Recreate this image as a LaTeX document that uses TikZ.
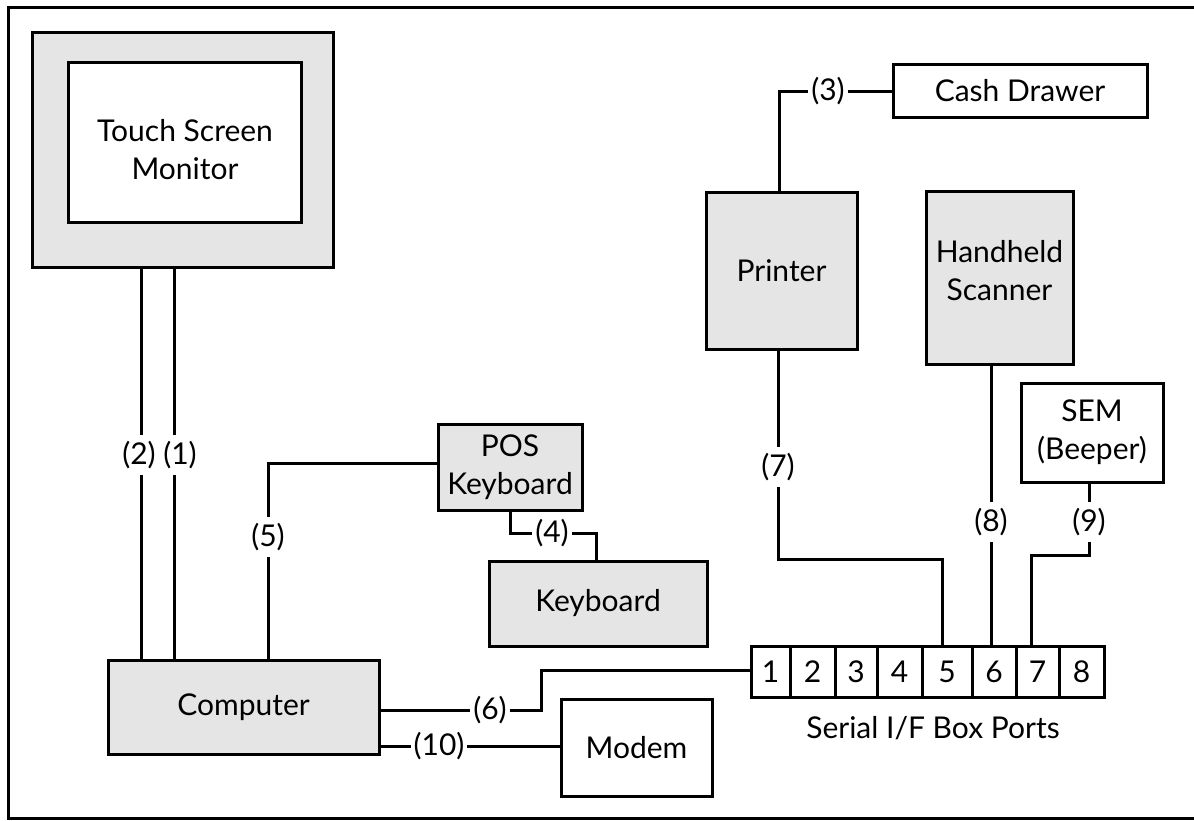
\documentclass[tikz,border=0pt]{standalone}
\usepackage{fontspec}
\setmainfont{Lato}
\begin{document}
\begin{tikzpicture}[x=1pt,y=-1pt,
  wire/.style={line width=3pt, line cap=rect},
  unit/.style={draw, line width=3pt, fill=black!10, inner sep=0pt, align=center},
  plain/.style={draw, line width=3pt, fill=white, inner sep=0pt, align=center},
  port/.style={draw, line width=3pt, fill=white, inner sep=0pt, minimum height=51pt},
  tag/.style={fill=white, inner xsep=3pt, inner ysep=6pt},
  txt/.style={align=center, inner sep=0pt},
  every node/.append style={font=\fontsize{30}{38}\selectfont}]
\useasboundingbox (0,0) rectangle (1194,820);
\clip (0,0) rectangle (1194,820);
\fill[white] (0,0) rectangle (1194,820);
% outer frame
\draw[line width=3pt] (8.5,7) rectangle (1200,818.5);

% touch screen monitor
\node[unit, minimum width=301pt, minimum height=235pt] (monitor) at (182.5,149.5) {};
\node[plain, minimum width=233pt, minimum height=160pt] (screen) at (184.5,142) {};
\node[txt] (montext) at (185,150) {Touch Screen\\Monitor};

% devices
\node[unit, minimum width=271pt, minimum height=94pt] (computer) at (243.5,707) {Computer};
\node[unit, minimum width=144pt, minimum height=86pt] (pos) at (510,467) {POS\\Keyboard};
\node[unit, minimum width=218pt, minimum height=85pt] (keyboard) at (598,603.5) {Keyboard};
\node[plain, minimum width=151pt, minimum height=97pt] (modem) at (636.5,747.5) {Modem};
\node[unit, minimum width=151pt, minimum height=157pt] (printer) at (781.5,270.5) {Printer};
\node[plain, minimum width=254pt, minimum height=53pt] (drawer) at (1020,90.5) {Cash Drawer};
\node[unit, minimum width=147pt, minimum height=173pt] (scanner) at (999.5,277.5) {};
\node[txt] (scantext) at (999.5,271) {Handheld\\Scanner};
\node[plain, minimum width=142pt, minimum height=99pt] (sem) at (1092,432.5) {SEM\\(Beeper)};

% serial interface box
\node[port, minimum width=39pt] (p1) at (770.5,671.5) {1};
\node[port, minimum width=45pt] (p2) at (812.5,671.5) {2};
\node[port, minimum width=42pt] (p3) at (856,671.5) {3};
\node[port, minimum width=45pt] (p4) at (899.5,671.5) {4};
\node[port, minimum width=50pt] (p5) at (947,671.5) {5};
\node[port, minimum width=44pt] (p6) at (994,671.5) {6};
\node[port, minimum width=43pt] (p7) at (1037.5,671.5) {7};
\node[port, minimum width=45pt] (p8) at (1081.5,671.5) {8};
\node[txt] (serial) at (933,728) {Serial I/F Box Ports};

% bend points
\coordinate (w1) at (174,0);
\coordinate (w2) at (141,0);
\coordinate (b3a) at (779,91);
\coordinate (b4a) at (510,533);
\coordinate (b4b) at (596,533);
\coordinate (b5a) at (268,463);
\coordinate (b6a) at (541,710);
\coordinate (b6b) at (541,670);
\coordinate (b7a) at (778,559);
\coordinate (b7b) at (942,559);
\coordinate (w8) at (991,0);
\coordinate (b9a) at (1089,555);
\coordinate (b9b) at (1031,555);
\coordinate (w10) at (0,746);

% cables
\draw[wire] (monitor.south -| w1) -- (computer.north -| w1);
\draw[wire] (monitor.south -| w2) -- (computer.north -| w2);
\draw[wire] (printer.north -| b3a) -- (b3a) -- (drawer.west |- b3a);
\draw[wire] (pos.south -| b4a) -- (b4a) -- (b4b) -- (keyboard.north -| b4b);
\draw[wire] (computer.north -| b5a) -- (b5a) -- (pos.west |- b5a);
\draw[wire] (computer.east |- b6a) -- (b6a) -- (b6b) -- (p1.west |- b6b);
\draw[wire] (printer.south -| b7a) -- (b7a) -- (b7b) -- (p5.north -| b7b);
\draw[wire] (scanner.south -| w8) -- (p6.north -| w8);
\draw[wire] (sem.south -| b9a) -- (b9a) -- (b9b) -- (p7.north -| b9b);
\draw[wire] (computer.east |- w10) -- (modem.west |- w10);

% cable numbers
\node[tag, inner xsep=1pt] (t1) at (180,455) {(1)};
\node[tag, inner xsep=1pt] (t2) at (139,455) {(2)};
\node[tag] (t3) at (828,91) {(3)};
\node[tag] (t4) at (552,533) {(4)};
\node[tag] (t5) at (268,537) {(5)};
\node[tag] (t6) at (490,710) {(6)};
\node[tag] (t7) at (778,467) {(7)};
\node[tag] (t8) at (991,522) {(8)};
\node[tag] (t9) at (1089,522) {(9)};
\node[tag] (t10) at (439,746) {(10)};
\end{tikzpicture}
\end{document}
